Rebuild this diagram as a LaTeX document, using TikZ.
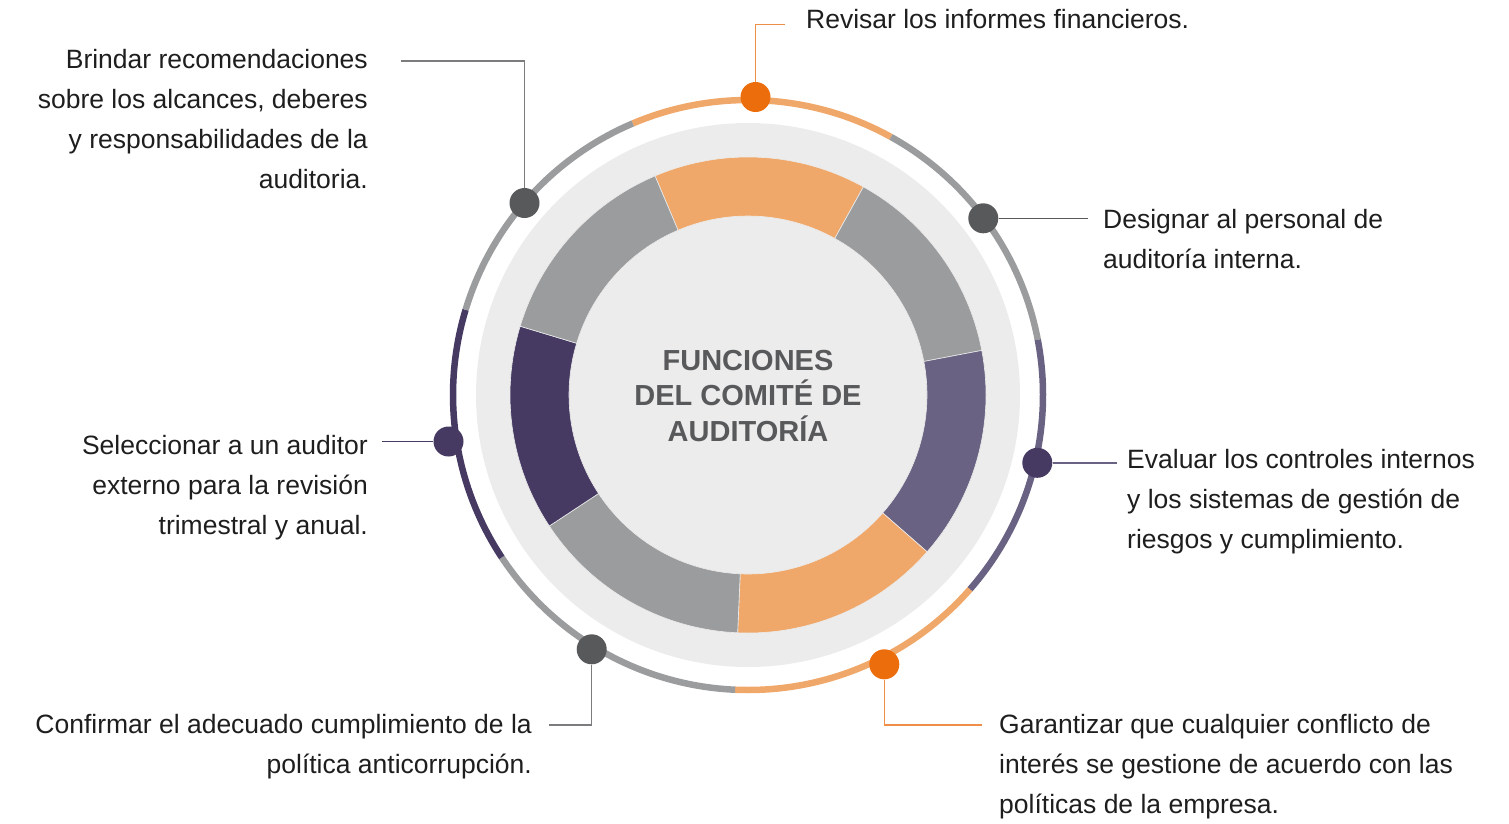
\documentclass[tikz,border=0pt]{standalone}
\usepackage{fontspec}
\setmainfont{Liberation Sans}
\definecolor{lorange}{HTML}{F0A86A}
\definecolor{dorange}{HTML}{EC6D0B}
\definecolor{segray}{HTML}{9B9C9E}
\definecolor{dgray}{HTML}{58595B}
\definecolor{purpR}{HTML}{6A6282}
\definecolor{purpL}{HTML}{463A63}
\definecolor{disk}{HTML}{ECECEC}
\definecolor{txt}{HTML}{1E1E1E}
\definecolor{lnorange}{HTML}{EF8F47}
\definecolor{lngray}{HTML}{7C7C7E}
\newcommand{\donutseg}[3]{%
  \fill[#3, draw=disk, line width=0.6pt] ([shift={(#1:238)}]O) arc[start angle=#1,end angle=#2,radius=238]
    -- ([shift={(#2:179)}]O) arc[start angle=#2,end angle=#1,radius=179] -- cycle;}
\newcommand{\ringseg}[3]{%
  \draw[ringline, #3] ([shift={(#1:295)}]O) arc[start angle=#1,end angle=#2,radius=295];}
\begin{document}
\begin{tikzpicture}[x=1pt,y=1pt,
  lbl/.style={font=\fontsize{26.5}{40}\selectfont, text=txt, inner sep=0pt},
  ttl/.style={font=\fontsize{29}{35}\selectfont\bfseries, text=dgray, inner sep=0pt, anchor=base},
  dot/.style={circle, minimum size=30pt, inner sep=0pt, draw=none},
  ringline/.style={line width=6.5pt, line cap=butt},
  conn/.style={line width=1.4pt}]
\useasboundingbox (0,0) rectangle (1509,-823);
\coordinate (O) at (748,-395);
% light disk
\fill[disk] (O) circle[radius=272];
% donut segments
\donutseg{61}{113}{lorange}
\donutseg{10.8}{61}{segray}
\donutseg{-41.2}{10.8}{purpR}
\donutseg{-92.5}{-41.2}{lorange}
\donutseg{-146.6}{-92.5}{segray}
\donutseg{163.2}{213.4}{purpL}
\donutseg{113}{163.2}{segray}
% outer ring
\ringseg{61}{113}{lorange}
\ringseg{10.8}{61}{segray}
\ringseg{-41.2}{10.8}{purpR}
\ringseg{-92.5}{-41.2}{lorange}
\ringseg{-146.6}{-92.5}{segray}
\ringseg{163.2}{213.4}{purpL}
\ringseg{113}{163.2}{segray}
% title
\node[ttl] (t1) at (748,-370) {FUNCIONES};
\node[ttl] (t2) at (748,-405.5) {DEL COMITÉ DE};
\node[ttl] (t3) at (748,-441) {AUDITORÍA};
% dots
\node[dot, fill=dorange] (dTop) at (755.5,-97) {};
\node[dot, fill=dgray] (dUL) at (524.5,-203) {};
\node[dot, fill=dgray] (dUR) at (983.3,-218.3) {};
\node[dot, fill=purpL] (dR) at (1037.3,-462.8) {};
\node[dot, fill=purpL] (dL) at (448.5,-441.5) {};
\node[dot, fill=dgray] (dBL) at (591.7,-649.3) {};
\node[dot, fill=dorange] (dBR) at (884.3,-664.3) {};
% connector ends
\coordinate (eTop) at (785,-24.3);
\coordinate (eUL) at (400.7,-61);
\coordinate (eUR) at (1087.7,-218.3);
\coordinate (eR) at (1116.7,-462.8);
\coordinate (eL) at (382,-441.5);
\coordinate (eBL) at (549,-725);
\coordinate (eBR) at (981.7,-725);
\draw[conn, lnorange] (dTop) |- (eTop);
\draw[conn, lngray] (dUL) |- (eUL);
\draw[conn, dgray] (dUR) -- (eUR);
\draw[conn, purpR] (dR) -- (eR);
\draw[conn, purpL] (dL) -- (eL);
\draw[conn, lngray] (dBL) |- (eBL);
\draw[conn, lnorange] (dBR) |- (eBR);
% texts
\node[lbl, anchor=base west] (rev) at (806,-28.3) {Revisar los informes financieros.};
\node[lbl, anchor=base east] (b1) at (368,-68.5) {Brindar recomendaciones};
\node[lbl, anchor=base east] (b2) at (368,-108.5) {sobre los alcances, deberes};
\node[lbl, anchor=base east] (b3) at (368,-148.5) {y responsabilidades de la};
\node[lbl, anchor=base east] (b4) at (368,-188.5) {auditoria.};
\node[lbl, anchor=base west] (d1) at (1103,-228.5) {Designar al personal de};
\node[lbl, anchor=base west] (d2) at (1103,-268.5) {auditoría interna.};
\node[lbl, anchor=base west] (e1) at (1127,-468.5) {Evaluar los controles internos};
\node[lbl, anchor=base west] (e2) at (1127,-508.5) {y los sistemas de gestión de};
\node[lbl, anchor=base west] (e3) at (1127,-548.5) {riesgos y cumplimiento.};
\node[lbl, anchor=base east] (s1) at (368,-454.5) {Seleccionar a un auditor};
\node[lbl, anchor=base east] (s2) at (368,-494.5) {externo para la revisión};
\node[lbl, anchor=base east] (s3) at (368,-534.5) {trimestral y anual.};
\node[lbl, anchor=base east] (c1) at (532,-733.5) {Confirmar el adecuado cumplimiento de la};
\node[lbl, anchor=base east] (c2) at (532,-773.5) {política anticorrupción.};
\node[lbl, anchor=base west] (g1) at (999,-733.5) {Garantizar que cualquier conflicto de};
\node[lbl, anchor=base west] (g2) at (999,-773.5) {interés se gestione de acuerdo con las};
\node[lbl, anchor=base west] (g3) at (999,-813.5) {políticas de la empresa.};
\end{tikzpicture}
\end{document}
